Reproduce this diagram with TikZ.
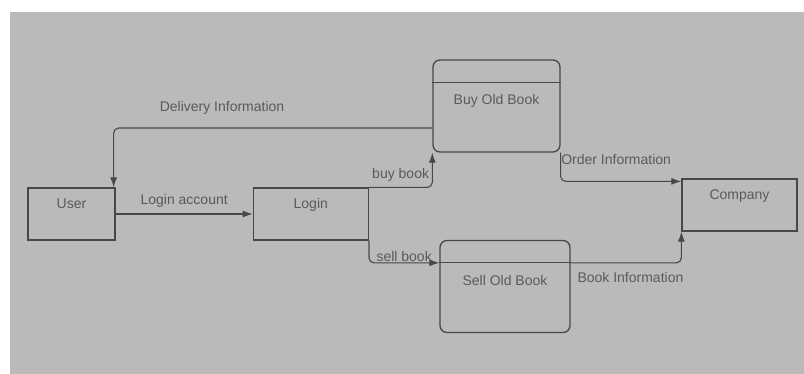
\documentclass[tikz,border=0pt]{standalone}
\usepackage{fontspec}
\setmainfont{Liberation Sans}
\usepackage{tikz}
\usetikzlibrary{arrows.meta,positioning}

\definecolor{sheet}{HTML}{BABABA}
\definecolor{edge}{HTML}{474747}
\definecolor{ink}{HTML}{5A5A5A}

\begin{document}
\begin{tikzpicture}[
  x=1pt,y=-1pt,
  font=\fontsize{14}{16}\selectfont,
  entity/.style={draw=edge,line width=1.3pt,inner sep=0pt,text=ink,text height=21pt,text depth=31pt},
  process/.style={draw=edge,line width=1.3pt,rounded corners=7pt,inner sep=0pt,text=ink,text height=45pt,text depth=47pt},
  flow/.style={-{Latex[length=10pt,width=7pt]},draw=edge,line width=1.1pt,rounded corners=5pt},
  tag/.style={inner sep=0pt,text=ink}
]
\useasboundingbox (0,0) rectangle (804,374);
\fill[sheet] (10,12) rectangle (804,374);

\node[entity,minimum width=87pt] (user) at (71.5,214) {User};
\node[entity,minimum width=115pt,right=137pt of user] (login) {Login};
\node[entity,minimum width=115pt] (company) at (739.5,205) {Company};
\node[process,minimum width=127pt] (buy) at (496.5,106) {Buy Old Book};
\node[process,minimum width=130pt] (sell) at (505,286.5) {Sell Old Book};

% divider lines of the process boxes
\draw[edge,line width=1.3pt] ([yshift=-23pt]buy.north west) -- ([yshift=-23pt]buy.north east);
\draw[edge,line width=1.3pt] ([yshift=-23pt]sell.north west) -- ([yshift=-23pt]sell.north east);

\draw[flow] (user.east) -- node[tag,above=6pt] {Login account} (login.west);
\draw[flow] ([yshift=-22pt]buy.west) -| node[tag,pos=0.33,above=13pt] {Delivery Information} ([xshift=-2pt]user.north east);
\draw[flow] (login.north east) -| node[tag,pos=0.25,above=5pt] {buy book} (buy.south west);
\draw[flow] (login.south east) |- node[tag,pos=0.75,above=0.5pt] {sell book} ([yshift=-23pt]sell.north west);
\draw[flow] (buy.south east) |- node[tag,pos=0.73,above=16pt] {Order Information} ([yshift=-3pt]company.north west);
\draw[flow] ([yshift=-23pt]sell.north east) -| node[tag,pos=0.27,below=9pt] {Book Information} (company.south west);
\end{tikzpicture}
\end{document}
